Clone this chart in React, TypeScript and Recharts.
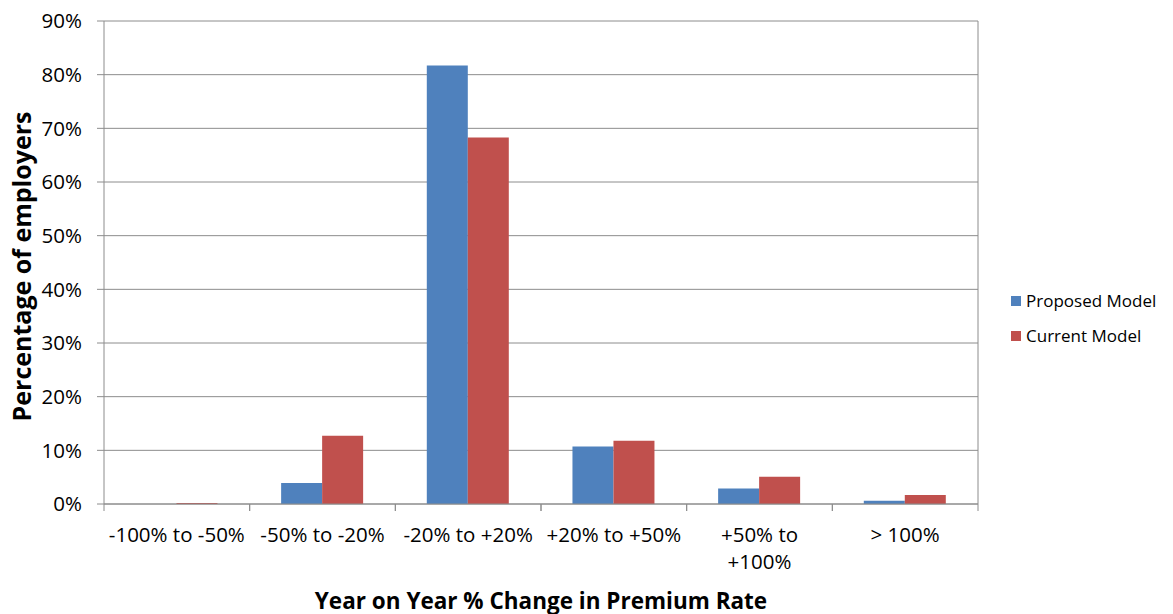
import { BarChart, Bar, XAxis, YAxis, CartesianGrid, Legend } from 'recharts'

const categories = ['-100% to -50%', '-50% to -20%', '-20% to +20%', '+20% to +50%', '+50% to\n+100%', '> 100%']
const proposed = [0, 3.9, 81.7, 10.7, 2.9, 0.6]
const current = [0.2, 12.7, 68.3, 11.8, 5.1, 1.7]
const yTicks = [0, 10, 20, 30, 40, 50, 60, 70, 80, 90]

const data = categories.map((name, i) => ({ name, proposed: proposed[i], current: current[i] }))

const FONT = '"Open Sans", "Noto Sans", sans-serif'
const BLUE = '#4f81bd'
const RED = '#c0504d'
const GRID = '#8c8c8c'

function XTick({ x, y, payload }: any) {
  const lines = String(payload.value).split('\n')
  const half = payload.offset ?? 0
  return (
    <g>
      <line x1={x - half} x2={x - half} y1={y - 8} y2={y - 1} stroke={GRID} />
      <line x1={x + half} x2={x + half} y1={y - 8} y2={y - 1} stroke={GRID} />
      {lines.map((l, i) => (
        <text key={i} x={x} y={y + 30 + i * 27} textAnchor="middle" fontSize={20.5} fill="#000" fontFamily={FONT}>
          {l}
        </text>
      ))}
    </g>
  )
}

function YLabel({ viewBox }: any) {
  const cx = viewBox.x + 21
  const cy = viewBox.y + viewBox.height / 2 + 4
  return (
    <text x={cx} y={cy} transform={`rotate(-90 ${cx} ${cy})`} textAnchor="middle" dominantBaseline="central"
      fontSize={25} fontWeight="bold" fill="#000" fontFamily={FONT}>
      Percentage of employers
    </text>
  )
}

function XLabel({ viewBox }: any) {
  return (
    <text x={viewBox.x + viewBox.width / 2} y={viewBox.y + 96} textAnchor="middle" dominantBaseline="central"
      fontSize={22.5} fontWeight="bold" fill="#000" fontFamily={FONT}>
      Year on Year % Change in Premium Rate
    </text>
  )
}

function LegendBox() {
  const items = [{ label: 'Proposed Model', color: BLUE }, { label: 'Current Model', color: RED }]
  return (
    <div style={{ fontFamily: FONT, fontSize: 17, color: '#000' }}>
      {items.map(it => (
        <div key={it.label} style={{ display: 'flex', alignItems: 'center', height: 35 }}>
          <span style={{ width: 10, height: 10, background: it.color, marginRight: 5, display: 'inline-block' }} />
          {it.label}
        </div>
      ))}
    </div>
  )
}

export default function App() {
  return (
    <div style={{ position: 'absolute', left: 0, top: 0, background: '#fff' }}>
      <BarChart width={1173} height={614} data={data} margin={{ top: 21, right: 35, left: 0, bottom: 0 }}
        barCategoryGap="21.6%" barGap={0}>
        <CartesianGrid horizontal vertical stroke={GRID}
          verticalCoordinatesGenerator={({ offset }: any) => [offset.left + offset.width]} />
        <XAxis dataKey="name" height={110} interval={0} tickLine={false} axisLine={{ stroke: GRID }}
          tick={<XTick />} label={<XLabel />} />
        <YAxis width={104} domain={[0, 90]} ticks={yTicks} interval={0} tickSize={7} tickMargin={15}
          axisLine={{ stroke: GRID }} tickLine={{ stroke: GRID }}
          tickFormatter={(v: number) => `${v}%`}
          tick={{ fontSize: 20.5, fill: '#000', fontFamily: FONT }} label={<YLabel />} />
        <Legend content={<LegendBox />} layout="horizontal" align="right" verticalAlign="middle"
          wrapperStyle={{ position: 'absolute', left: 1011, top: 283, width: 160 }} />
        <Bar dataKey="proposed" name="Proposed Model" fill={BLUE} isAnimationActive={false} />
        <Bar dataKey="current" name="Current Model" fill={RED} isAnimationActive={false} />
      </BarChart>
    </div>
  )
}
